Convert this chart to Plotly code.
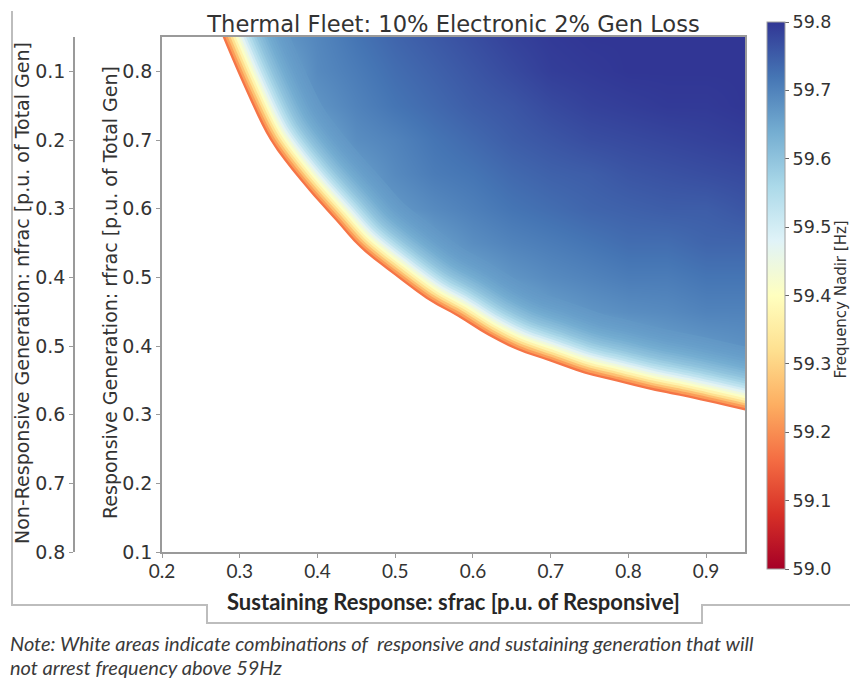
import plotly.graph_objects as go
from plotly.colors import sample_colorscale

# ---- data -------------------------------------------------------------
# Sustaining response (x) and responsive generation (y) grid of the nadir map
sfrac = [0.20, 0.25, 0.30, 0.35, 0.40, 0.45, 0.50, 0.55,
         0.60, 0.65, 0.70, 0.75, 0.80, 0.85, 0.90, 0.95]
rfrac = [0.10, 0.15, 0.20, 0.25, 0.30, 0.35, 0.40, 0.45,
         0.50, 0.55, 0.60, 0.65, 0.70, 0.75, 0.80, 0.85]

N = None   # not arrested above 59 Hz, or inside the steep edge band (see band_nadir)
# Frequency nadir [Hz]; one row per rfrac value (bottom to top), one column per sfrac value.
nadir = [
    [N, N, N, N, N, N, N, N, N, N, N, N, N, N, N, N],
    [N, N, N, N, N, N, N, N, N, N, N, N, N, N, N, N],
    [N, N, N, N, N, N, N, N, N, N, N, N, N, N, N, N],
    [N, N, N, N, N, N, N, N, N, N, N, N, N, N, N, N],
    [N, N, N, N, N, N, N, N, N, N, N, N, N, N, N, N],
    [N, N, N, N, N, N, N, N, N, N, N, N, N, N, N, 59.62],
    [N, N, N, N, N, N, N, N, N, N, N, 59.61, 59.64, 59.66, 59.67, 59.68],
    [N, N, N, N, N, N, N, N, N, 59.63, 59.66, 59.675, 59.685, 59.69, 59.70, 59.70],
    [N, N, N, N, N, N, N, N, 59.65, 59.675, 59.69, 59.70, 59.71, 59.71, 59.72, 59.72],
    [N, N, N, N, N, N, 59.60, 59.66, 59.685, 59.70, 59.71, 59.72, 59.73, 59.73, 59.74, 59.74],
    [N, N, N, N, N, N, 59.67, 59.69, 59.705, 59.72, 59.73, 59.74, 59.745, 59.75, 59.75, 59.76],
    [N, N, N, N, N, 59.66, 59.69, 59.71, 59.72, 59.735, 59.745, 59.75, 59.76, 59.765, 59.77, 59.775],
    [N, N, N, N, 59.645, 59.685, 59.70, 59.72, 59.735, 59.75, 59.76, 59.77, 59.775, 59.78, 59.785, 59.79],
    [N, N, N, N, 59.675, 59.70, 59.72, 59.735, 59.75, 59.76, 59.775, 59.785, 59.79, 59.795, 59.795, 59.80],
    [N, N, N, 59.64, 59.69, 59.71, 59.73, 59.745, 59.76, 59.775, 59.79, 59.795, 59.80, 59.80, 59.80, 59.80],
    [N, N, N, 59.67, 59.695, 59.72, 59.74, 59.755, 59.77, 59.785, 59.795, 59.80, 59.80, 59.80, 59.80, 59.80],
]

# Outer edge of the arrested region (nadir falls to the 59 Hz floor)
edge_sfrac = [0.278, 0.307, 0.339, 0.378, 0.423, 0.455, 0.498, 0.545, 0.580,
              0.620, 0.657, 0.700, 0.743, 0.786, 0.829, 0.872, 0.950]
edge_rfrac = [0.850, 0.774, 0.700, 0.641, 0.583, 0.543, 0.504, 0.465, 0.443,
              0.415, 0.394, 0.377, 0.360, 0.348, 0.336, 0.326, 0.306]

# Nadir across the steep band just inside that edge, one value per ring (edge -> inwards)
band_nadir = [59.17, 59.22, 59.27, 59.32, 59.37, 59.41, 59.44, 59.47, 59.50,
              59.53, 59.55, 59.57, 59.585, 59.60, 59.61, 59.62, 59.63, 59.64,
              59.645, 59.65, 59.655, 59.66, 59.663, 59.666, 59.668, 59.67]

electronic_share = 0.10          # nfrac = 1 - electronic share - rfrac
sfrac_ticks = [0.2, 0.3, 0.4, 0.5, 0.6, 0.7, 0.8, 0.9]
rfrac_ticks = [0.1, 0.2, 0.3, 0.4, 0.5, 0.6, 0.7, 0.8]
nfrac_ticks = [0.1, 0.2, 0.3, 0.4, 0.5, 0.6, 0.7, 0.8]
nadir_ticks = [59.0, 59.1, 59.2, 59.3, 59.4, 59.5, 59.6, 59.7, 59.8]

x_range = [0.20, 0.95]
y_range = [0.10, 0.85]
z_range = [59.0, 59.8]

# ---- page geometry (pixels) --------------------------------------------
W, H = 850, 680
PL, PR, PT, PB = 162, 745, 37, 552      # plot area edges
BAND_STEP_PX = 2.4                       # depth of each band ring


def px_x(px):
    return px / W


def px_y(py):
    return (PB - py) / (PB - PT)


SANS = "DejaVu Sans"
HUMAN = "Lato"
TXT = "#333333"
AXIS = "#9a9a9a"
FRAME = "#bdbdbd"
SCALE = "RdYlBu"

fig = go.Figure()

fig.add_trace(go.Heatmap(
    x=sfrac, y=rfrac, z=nadir,
    zmin=z_range[0], zmax=z_range[1],
    colorscale=SCALE, zsmooth="best", hoverinfo="skip",
    colorbar=dict(
        x=px_x(767), xanchor="left", xpad=0,
        thickness=18, thicknessmode="pixels",
        len=(569 - 22) / (PB - PT), lenmode="fraction",
        y=px_y((22 + 569) / 2), yanchor="middle", ypad=0,
        tickvals=nadir_ticks, ticktext=[f"{v:.1f}" for v in nadir_ticks],
        ticks="outside", ticklen=4, tickcolor="#666666",
        tickfont=dict(family=SANS, size=17.5, color=TXT),
        outlinewidth=1, outlinecolor="#a0a0a0",
    ),
))

# Steep band along the 59 Hz edge: rings drawn from the deepest one outwards
band_colors = sample_colorscale(
    SCALE, [(v - z_range[0]) / (z_range[1] - z_range[0]) for v in band_nadir])
for i in reversed(range(len(band_nadir))):
    fig.add_trace(go.Scatter(
        x=edge_sfrac, y=edge_rfrac, mode="lines",
        line=dict(color=band_colors[i], width=2 * BAND_STEP_PX * (i + 1), shape="spline"),
        hoverinfo="skip", showlegend=False,
    ))

# Region below the 59 Hz edge is left white: fill between an outer frame and the edge
lo_x, hi_x = x_range[0] - 0.01, x_range[1] + 0.01
lo_y = y_range[0] - 0.01
fig.add_trace(go.Scatter(
    x=[lo_x, lo_x, hi_x, hi_x], y=[y_range[1], lo_y, lo_y, edge_rfrac[-1]],
    mode="lines", line=dict(width=0, color="white"),
    hoverinfo="skip", showlegend=False,
))
fig.add_trace(go.Scatter(
    x=edge_sfrac, y=edge_rfrac, mode="lines", fill="tonexty", fillcolor="white",
    line=dict(width=0, color="white", shape="spline"),
    hoverinfo="skip", showlegend=False,
))

# Secondary (non-responsive) scale shares the vertical extent
fig.add_trace(go.Scatter(x=[], y=[], yaxis="y2", showlegend=False, hoverinfo="skip"))

axis_common = dict(
    showgrid=False, zeroline=False, showline=True, linecolor=AXIS, linewidth=1.5,
    ticks="outside", ticklen=4, tickcolor=AXIS, automargin=False,
)

fig.update_layout(
    width=W, height=H,
    margin=dict(l=0, r=0, t=PT, b=H - PB, pad=0, autoexpand=False),
    paper_bgcolor="white", plot_bgcolor="white",
    showlegend=False,
    title=dict(
        text="Thermal Fleet: 10% Electronic 2% Gen Loss",
        font=dict(family=SANS, size=22.6, color=TXT),
        x=px_x((PL + PR) / 2), xanchor="center", xref="paper",
        y=1 - 24 / H, yanchor="middle", yref="container",
    ),
    xaxis=dict(
        domain=[px_x(PL), px_x(PR)], range=x_range, mirror=True,
        tickvals=sfrac_ticks, ticktext=[f"{v:.1f}" for v in sfrac_ticks],
        tickfont=dict(family=HUMAN, size=19, color=TXT), ticklabelstandoff=-3,
        **axis_common,
    ),
    yaxis=dict(
        domain=[0, 1], range=y_range, mirror=True,
        tickvals=rfrac_ticks, ticktext=[f"{v:.1f}" for v in rfrac_ticks],
        tickfont=dict(family=SANS, size=19, color=TXT),
        **axis_common,
    ),
    yaxis2=dict(
        overlaying="y", anchor="free", position=px_x(74), side="left",
        range=[1 - electronic_share - y_range[0], 1 - electronic_share - y_range[1]],
        tickvals=nfrac_ticks, ticktext=[f"{v:.1f}" for v in nfrac_ticks],
        tickfont=dict(family=SANS, size=19, color=TXT),
        **axis_common,
    ),
)

annotations = [
    dict(text="Non-Responsive Generation: nfrac [p.u. of Total Gen]",
         x=px_x(22), y=px_y(293), textangle=-90,
         font=dict(family=SANS, size=19, color=TXT)),
    dict(text="Responsive Generation: rfrac [p.u. of Total Gen]",
         x=px_x(110), y=px_y(293), textangle=-90,
         font=dict(family=SANS, size=19, color=TXT)),
    dict(text="Frequency Nadir [Hz]",
         x=px_x(840.5), y=px_y(300), textangle=-90,
         font=dict(family=SANS, size=15, color=TXT)),
    dict(text="Sustaining Response: sfrac [p.u. of Responsive]",
         x=px_x(454), y=px_y(601),
         font=dict(family=HUMAN, size=22, color="#262626", weight="bold")),
    dict(text="Note: White areas indicate combinations of  responsive and sustaining generation that will",
         x=px_x(8), y=px_y(642.5), xanchor="left",
         font=dict(family=HUMAN, size=20, color="#3a3a3a", style="italic")),
    dict(text="not arrest frequency above 59Hz",
         x=px_x(8), y=px_y(667), xanchor="left",
         font=dict(family=HUMAN, size=20, color="#3a3a3a", style="italic")),
]
for a in annotations:
    a.update(xref="paper", yref="paper", showarrow=False, yanchor="middle",
             xanchor=a.get("xanchor", "center"))
fig.update_layout(annotations=annotations)

# Light frame around the figure with a tab for the x-axis label
frame_pts = [(12, 11), (12, 605), (207, 605), (207, 623), (702, 623), (702, 605), (850, 605)]
frame_path = "M " + " L ".join(f"{px_x(x):.5f},{px_y(y):.5f}" for x, y in frame_pts)
fig.add_shape(type="path", path=frame_path, xref="paper", yref="paper",
              line=dict(color=FRAME, width=2), layer="above")

fig.write_html("out.html")
